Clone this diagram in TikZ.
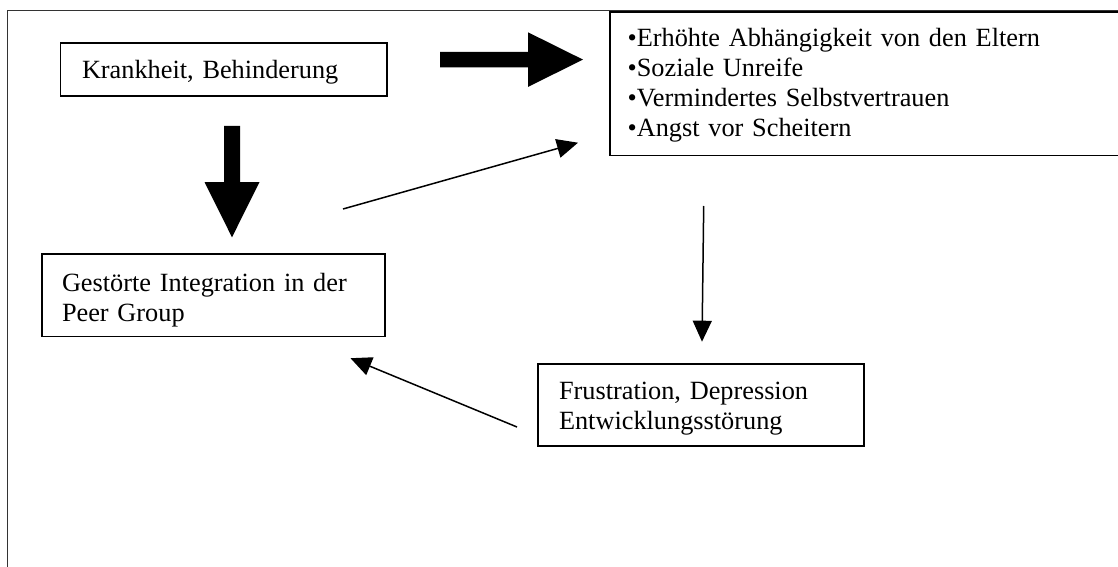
\documentclass[tikz,border=0pt]{standalone}
\usepackage{fontspec}
\setmainfont{Liberation Serif}
\usetikzlibrary{arrows.meta,calc}
\begin{document}
\begin{tikzpicture}[x=1pt,y=-1pt,
  box/.style={draw, line width=1.3pt, rectangle, anchor=base west, outer sep=0pt,
    inner ysep=0pt, align=left, font=\fontsize{26.3}{30}\selectfont},
  thinarrow/.style={line width=1.5pt, -{Triangle[length=21pt,width=19pt]}},
  bigarrow/.style={fill=black},
  outerframe/.style={line width=1pt, draw=black!80}]
\clip (0,0) rectangle (1118,567);
\fill[white] (0,0) rectangle (1118,567);
\draw[outerframe] (7,567) -- (7,10.7) -- (1118,10.7);

\node[box, inner xsep=21.5pt, text width=283.5pt, text height=35.3pt, text depth=17.7pt]
  (krank) at (60.5,78.3) {Krankheit, Behinderung};
\node[box, inner xsep=17.6pt, text width=479.8pt, text height=34.7pt, text depth=109pt]
  (folgen) at (610,46.7) {•Erhöhte Abhängigkeit von den Eltern\\•Soziale Unreife\\•Vermindertes Selbstvertrauen\\•Angst vor Scheitern};
\node[box, inner xsep=20pt, text width=303pt, text height=37.5pt, text depth=45.2pt]
  (peer) at (42,291.5) {Gestörte Integration in der\\Peer Group};
\node[box, inner xsep=21pt, text width=284pt, text height=35pt, text depth=47pt]
  (frust) at (538,399) {Frustration, Depression\\Entwicklungsstörung};

% big arrows
\coordinate (bigRs) at (440,59.6);
\coordinate (bigRe) at (583,59.6);
\fill[bigarrow] ($(bigRs)+(0,-7.8)$) -- ($(bigRe)+(-55,-7.8)$) -- ($(bigRe)+(-55,-27.3)$)
  -- (bigRe) -- ($(bigRe)+(-55,27.3)$) -- ($(bigRe)+(-55,7.8)$) -- ($(bigRs)+(0,7.8)$) -- cycle;
\coordinate (bigDs) at (232,126);
\coordinate (bigDe) at (232,237.3);
\fill[bigarrow] ($(bigDs)+(-8,0)$) -- ($(bigDs)+(8,0)$) -- ($(bigDe)+(8,-55.3)$) -- ($(bigDe)+(27.5,-55.3)$)
  -- (bigDe) -- ($(bigDe)+(-27.5,-55.3)$) -- ($(bigDe)+(-8,-55.3)$) -- cycle;

% thin arrows
\coordinate (a1s) at (343,209);
\coordinate (a1e) at (578,142.7);
\coordinate (a2s) at (703.7,206);
\coordinate (a2e) at (702,341.7);
\coordinate (a3s) at (517,427);
\coordinate (a3e) at (350.5,358.2);
\draw[thinarrow] (a1s) -- (a1e);
\draw[thinarrow] (a2s) -- (a2e);
\draw[thinarrow] (a3s) -- (a3e);
\end{tikzpicture}
\end{document}
